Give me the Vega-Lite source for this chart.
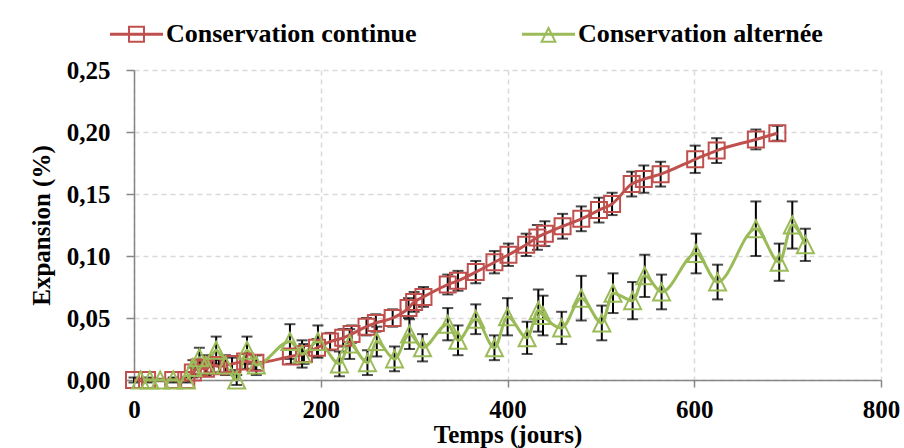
{
  "$schema": "https://vega.github.io/schema/vega-lite/v6.json",
  "width": 747,
  "height": 310,
  "autosize": "none",
  "padding": {"left": 134, "top": 70, "right": 23, "bottom": 68},
  "background": "white",
  "config": {
    "view": {"stroke": null},
    "font": "Liberation Serif",
    "axis": {
      "domainColor": "#868686", "domainWidth": 1.5,
      "tickColor": "#868686", "tickWidth": 1.5,
      "gridColor": "#D9D9D9", "gridDash": [5, 4], "gridWidth": 1.5,
      "labelFlush": false,
      "labelFont": "Liberation Serif", "labelFontSize": 25, "labelFontWeight": "bold", "labelColor": "black",
      "titleFont": "Liberation Serif", "titleFontSize": 25, "titleFontWeight": "bold", "titleColor": "black"
    }
  },
  "data": {"values": [
    {"s":"Conservation continue","t":0,"v":0,"e":0.002},
    {"s":"Conservation continue","t":14,"v":0,"e":0.002},
    {"s":"Conservation continue","t":42,"v":0,"e":0.002},
    {"s":"Conservation continue","t":56,"v":0,"e":0.002},
    {"s":"Conservation continue","t":63,"v":0.006,"e":0.004},
    {"s":"Conservation continue","t":70,"v":0.010,"e":0.005},
    {"s":"Conservation continue","t":77,"v":0.009,"e":0.005},
    {"s":"Conservation continue","t":84,"v":0.012,"e":0.006},
    {"s":"Conservation continue","t":91,"v":0.011,"e":0.005},
    {"s":"Conservation continue","t":105,"v":0.013,"e":0.005},
    {"s":"Conservation continue","t":119,"v":0.015,"e":0.006},
    {"s":"Conservation continue","t":130,"v":0.014,"e":0.006},
    {"s":"Conservation continue","t":168,"v":0.019,"e":0.006},
    {"s":"Conservation continue","t":182,"v":0.021,"e":0.008},
    {"s":"Conservation continue","t":196,"v":0.026,"e":0.007},
    {"s":"Conservation continue","t":210,"v":0.031,"e":0.007},
    {"s":"Conservation continue","t":224,"v":0.034,"e":0.007},
    {"s":"Conservation continue","t":233,"v":0.037,"e":0.007},
    {"s":"Conservation continue","t":249,"v":0.043,"e":0.007},
    {"s":"Conservation continue","t":259,"v":0.046,"e":0.007},
    {"s":"Conservation continue","t":277,"v":0.050,"e":0.007},
    {"s":"Conservation continue","t":294,"v":0.058,"e":0.008},
    {"s":"Conservation continue","t":300,"v":0.063,"e":0.008},
    {"s":"Conservation continue","t":310,"v":0.067,"e":0.008},
    {"s":"Conservation continue","t":336,"v":0.077,"e":0.008},
    {"s":"Conservation continue","t":347,"v":0.080,"e":0.008},
    {"s":"Conservation continue","t":366,"v":0.087,"e":0.009},
    {"s":"Conservation continue","t":386,"v":0.095,"e":0.009},
    {"s":"Conservation continue","t":401,"v":0.101,"e":0.009},
    {"s":"Conservation continue","t":420,"v":0.109,"e":0.009},
    {"s":"Conservation continue","t":432,"v":0.115,"e":0.010},
    {"s":"Conservation continue","t":440,"v":0.118,"e":0.010},
    {"s":"Conservation continue","t":459,"v":0.124,"e":0.010},
    {"s":"Conservation continue","t":479,"v":0.130,"e":0.010},
    {"s":"Conservation continue","t":498,"v":0.137,"e":0.010},
    {"s":"Conservation continue","t":512,"v":0.142,"e":0.009},
    {"s":"Conservation continue","t":533,"v":0.158,"e":0.010},
    {"s":"Conservation continue","t":546,"v":0.162,"e":0.011},
    {"s":"Conservation continue","t":564,"v":0.166,"e":0.010},
    {"s":"Conservation continue","t":601,"v":0.178,"e":0.011},
    {"s":"Conservation continue","t":624,"v":0.185,"e":0.010},
    {"s":"Conservation continue","t":666,"v":0.194,"e":0.008},
    {"s":"Conservation continue","t":689,"v":0.199,"e":0.006},
    {"s":"Conservation alternée","t":7,"v":0,"e":0.001},
    {"s":"Conservation alternée","t":17,"v":0,"e":0.001},
    {"s":"Conservation alternée","t":28,"v":0,"e":0.001},
    {"s":"Conservation alternée","t":42,"v":0,"e":0.001},
    {"s":"Conservation alternée","t":56,"v":0,"e":0.001},
    {"s":"Conservation alternée","t":63,"v":0.010,"e":0.006},
    {"s":"Conservation alternée","t":70,"v":0.018,"e":0.008},
    {"s":"Conservation alternée","t":77,"v":0.012,"e":0.008},
    {"s":"Conservation alternée","t":88,"v":0.024,"e":0.011},
    {"s":"Conservation alternée","t":98,"v":0.012,"e":0.008},
    {"s":"Conservation alternée","t":110,"v":0,"e":0.004},
    {"s":"Conservation alternée","t":121,"v":0.024,"e":0.011},
    {"s":"Conservation alternée","t":131,"v":0.012,"e":0.008},
    {"s":"Conservation alternée","t":167,"v":0.031,"e":0.014},
    {"s":"Conservation alternée","t":180,"v":0.021,"e":0.011},
    {"s":"Conservation alternée","t":197,"v":0.031,"e":0.013},
    {"s":"Conservation alternée","t":220,"v":0.013,"e":0.010},
    {"s":"Conservation alternée","t":231,"v":0.029,"e":0.012},
    {"s":"Conservation alternée","t":250,"v":0.014,"e":0.010},
    {"s":"Conservation alternée","t":260,"v":0.031,"e":0.012},
    {"s":"Conservation alternée","t":279,"v":0.017,"e":0.010},
    {"s":"Conservation alternée","t":295,"v":0.037,"e":0.012},
    {"s":"Conservation alternée","t":309,"v":0.026,"e":0.011},
    {"s":"Conservation alternée","t":336,"v":0.045,"e":0.013},
    {"s":"Conservation alternée","t":347,"v":0.032,"e":0.012},
    {"s":"Conservation alternée","t":366,"v":0.049,"e":0.012},
    {"s":"Conservation alternée","t":386,"v":0.026,"e":0.010},
    {"s":"Conservation alternée","t":400,"v":0.051,"e":0.015},
    {"s":"Conservation alternée","t":421,"v":0.034,"e":0.013},
    {"s":"Conservation alternée","t":433,"v":0.056,"e":0.017},
    {"s":"Conservation alternée","t":438,"v":0.052,"e":0.016},
    {"s":"Conservation alternée","t":458,"v":0.042,"e":0.013},
    {"s":"Conservation alternée","t":479,"v":0.066,"e":0.018},
    {"s":"Conservation alternée","t":501,"v":0.046,"e":0.014},
    {"s":"Conservation alternée","t":513,"v":0.070,"e":0.016},
    {"s":"Conservation alternée","t":534,"v":0.064,"e":0.015},
    {"s":"Conservation alternée","t":547,"v":0.084,"e":0.017},
    {"s":"Conservation alternée","t":565,"v":0.071,"e":0.014},
    {"s":"Conservation alternée","t":602,"v":0.102,"e":0.016},
    {"s":"Conservation alternée","t":625,"v":0.079,"e":0.014},
    {"s":"Conservation alternée","t":666,"v":0.122,"e":0.022},
    {"s":"Conservation alternée","t":691,"v":0.095,"e":0.015},
    {"s":"Conservation alternée","t":705,"v":0.125,"e":0.019},
    {"s":"Conservation alternée","t":719,"v":0.109,"e":0.013}
  ]},
  "encoding": {
    "x": {"field": "t", "type": "quantitative",
      "scale": {"domain": [0, 800], "nice": false},
      "axis": {"title": "Temps (jours)", "values": [0, 200, 400, 600, 800], "format": "d", "tickSize": 7, "labelPadding": 10, "titlePadding": 0}},
    "y": {"field": "v", "type": "quantitative",
      "scale": {"domain": [0, 0.25], "nice": false},
      "axis": {"title": "Expansion (%)", "values": [0, 0.05, 0.1, 0.15, 0.2, 0.25], "labelExpr": "replace(format(datum.value, '.2f'), '.', ',')", "tickSize": 8, "labelPadding": 16, "titlePadding": 12}}
  },
  "layer": [
    {
      "mark": {"type": "errorbar", "color": "black", "ticks": {"size": 11, "thickness": 2, "color": "black"}, "rule": {"strokeWidth": 2, "color": "black"}},
      "encoding": {"yError": {"field": "e"}}
    },
    {
      "mark": {"type": "line", "interpolate": "monotone", "strokeWidth": 3},
      "encoding": {
        "color": {"field": "s", "type": "nominal", "scale": {"domain": ["Conservation continue", "Conservation alternée"], "range": ["#C0504D", "#9BBB59"]},
          "legend": {"title": null, "orient": "none", "legendX": -24, "legendY": -62.5, "direction": "horizontal",
            "symbolSize": 2809, "labelOffset": 3, "columnPadding": 105,
            "labelFont": "Liberation Serif", "labelFontSize": 26, "labelFontWeight": "bold", "labelColor": "black", "labelLimit": 400,
            "encode": {"symbols": {"update": {
              "shape": [{"test": "datum.value === 'Conservation continue'", "value": "M-1,-0.06H1V0.06H-1Z M-0.32,-0.32H0.32V0.32H-0.32Z M-0.245,-0.245V0.245H0.245V-0.245Z"}, {"value": "M-1,-0.06H1V0.06H-1Z M0,-0.32L0.32,0.32L-0.32,0.32Z M0,-0.152L-0.198,0.245L0.198,0.245Z"}],
              "fill": [{"test": "datum.value === 'Conservation continue'", "value": "#C0504D"}, {"value": "#9BBB59"}],
              "fillOpacity": {"value": 1},
              "strokeWidth": {"value": 0}
            }}}}}
      }
    },
    {
      "transform": [{"filter": "datum.s == 'Conservation continue'"}],
      "mark": {"type": "point", "shape": "square", "size": 256, "filled": false, "stroke": "#C0504D", "strokeWidth": 2, "opacity": 1}
    },
    {
      "transform": [{"filter": "datum.s == 'Conservation alternée'"}],
      "mark": {"type": "point", "shape": "M0,-1L1,1L-1,1Z", "size": 289, "filled": false, "stroke": "#9BBB59", "strokeWidth": 2, "opacity": 1}
    }
  ]
}
